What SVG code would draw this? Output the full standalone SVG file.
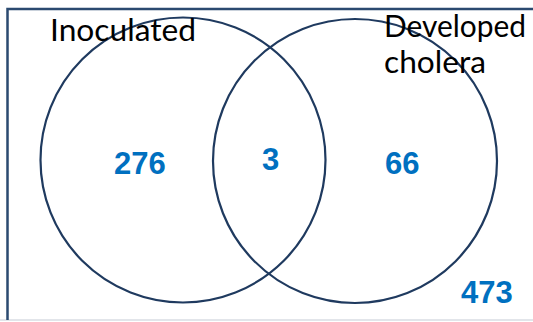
<svg xmlns="http://www.w3.org/2000/svg" width="533" height="322" viewBox="0 0 533 322">
  <style>
    .set { fill: none; stroke: #1f3a5f; stroke-width: 2.2; }
    .label { font-family: Lato, "Open Sans", sans-serif; font-size: 30px; fill: #000; }
    .count { font-family: "Liberation Sans", Arial, sans-serif; font-weight: bold; font-size: 31px; fill: #0070c0; }
  </style>
  <rect width="533" height="322" fill="#fff"/>
  <!-- frame: universe of the Venn diagram -->
  <g id="frame">
    <line x1="0" y1="320" x2="533" y2="320" stroke="#d9dde3" stroke-width="1.5"/>
    <path d="M533 9 H7.5 V320" fill="none" stroke="#2b4a70" stroke-width="2.5"/>
  </g>
  <g id="connectors"/>
  <g id="inoculated">
    <circle class="set" cx="183" cy="160" r="142.5"/>
    <text class="label" x="50" y="41" textLength="146" lengthAdjust="spacingAndGlyphs">Inoculated</text>
  </g>
  <g id="cholera">
    <circle class="set" cx="355" cy="161" r="142"/>
    <text class="label" x="384" y="37" textLength="142" lengthAdjust="spacingAndGlyphs">Developed</text>
    <text class="label" x="384" y="73" textLength="102" lengthAdjust="spacingAndGlyphs">cholera</text>
  </g>
  <g id="counts">
    <text class="count" x="114" y="174">276</text>
    <text class="count" x="262" y="170">3</text>
    <text class="count" x="385" y="174">66</text>
    <text class="count" x="461" y="303">473</text>
  </g>
</svg>
